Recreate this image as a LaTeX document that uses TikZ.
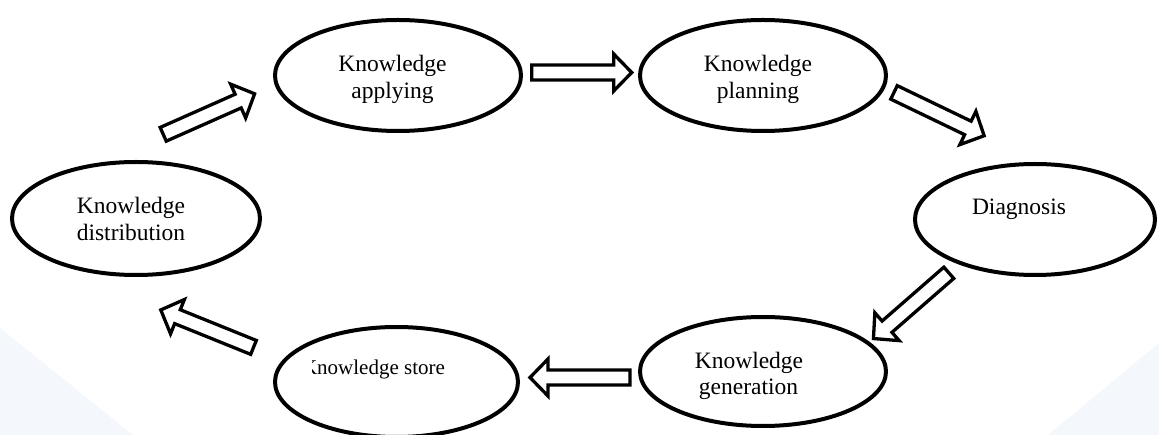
\documentclass[tikz,border=0pt]{standalone}
\usepackage{fontspec}
\setmainfont{Liberation Serif}
\usetikzlibrary{shapes.geometric}
\definecolor{bgblue}{RGB}{244,247,252}
\tikzset{
  ell/.style={draw, ellipse, line width=4pt, inner sep=0pt, fill=white},
  lbl/.style={anchor=base, inner sep=0pt, font=\fontsize{23.5}{26.5}\selectfont},
  barrowline/.style={draw, fill=white, line width=3.3pt, miter limit=10},
  pics/barrow/.style={code={
    \path[barrowline] (0,-7.5) -- (82,-7.5) -- (82,-18.5) -- (100,0)
      -- (82,18.5) -- (82,7.5) -- (0,7.5) -- cycle;}}
}
\begin{document}
\begin{tikzpicture}[x=1pt,y=-1pt]
\useasboundingbox (0,0) rectangle (1159,435);
% faint background shapes
\fill[bgblue] (0,328) -- (133,435) -- (0,435) -- cycle;
\fill[bgblue] (1159,343) -- (1159,435) -- (1048,435) -- cycle;
% ellipses
\node[ell, minimum width=246pt, minimum height=111pt] (apply) at (398,75.5) {};
\node[ell, minimum width=246pt, minimum height=111pt] (plan)  at (763,75.5) {};
\node[ell, minimum width=240pt, minimum height=111pt] (diag)  at (1035,219.5) {};
\node[ell, minimum width=248pt, minimum height=113pt] (dist)  at (136,218.5) {};
\node[ell, minimum width=243pt, minimum height=110pt] (store) at (396.5,382) {};
\node[ell, minimum width=246pt, minimum height=109pt] (gen)   at (763,371.5) {};
% labels
\node[lbl] (applyA) at (392.5,72) {Knowledge};
\node[lbl] (applyB) at (392.5,98.5) {applying};
\node[lbl] (planA) at (758,72) {Knowledge};
\node[lbl] (planB) at (758,98.5) {planning};
\node[lbl] (diagA) at (1019,215) {Diagnosis};
\node[lbl] (distA) at (131,213.5) {Knowledge};
\node[lbl] (distB) at (131,240.5) {distribution};
\node[lbl] (genA) at (749,368.5) {Knowledge};
\node[lbl] (genB) at (748.5,394.5) {generation};
\begin{scope}
  \clip (312,340) rectangle (470,395);
  \node[lbl, font=\fontsize{21}{24}\selectfont] (storeA) at (373.5,375) {Knowledge store};
\end{scope}
% block arrows (tails)
\coordinate (tA) at (163.2,134.3);
\coordinate (tB) at (531.7,72.5);
\coordinate (tC) at (894,92.4);
\coordinate (tD) at (948.8,272.8);
\coordinate (tE) at (630,377.5);
\coordinate (tF) at (253.5,347.4);
\pic[rotate=23.9] at (tA) {barrow};
\pic at (tB) {barrow};
\pic[rotate=-25.7] at (tC) {barrow};
\pic[rotate=221.1] at (tD) {barrow};
\pic[rotate=180] at (tE) {barrow};
\pic[rotate=158] at (tF) {barrow};
\end{tikzpicture}
\end{document}
